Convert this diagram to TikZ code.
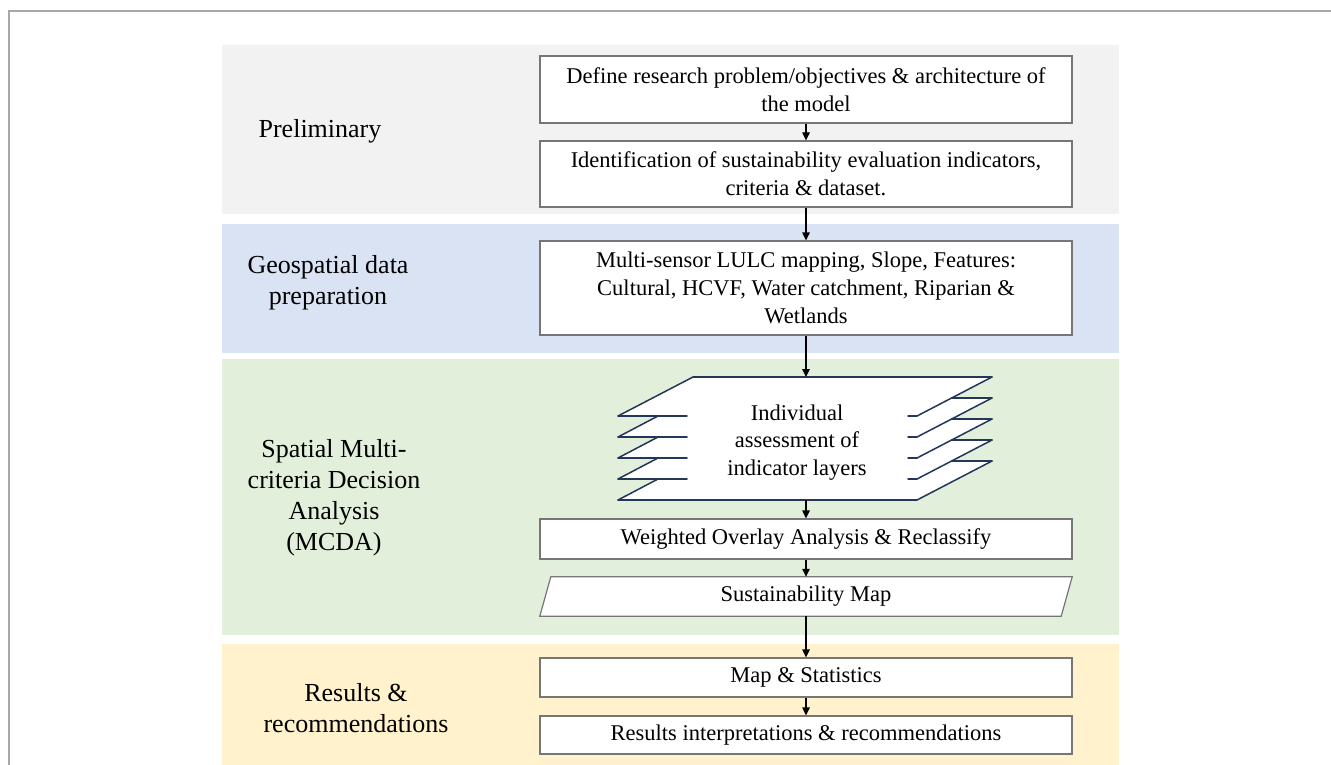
\documentclass[tikz,border=0pt]{standalone}
\usepackage{fontspec}
\setmainfont{Liberation Serif}
\usetikzlibrary{arrows.meta}
\definecolor{bandgray}{HTML}{F2F2F2}
\definecolor{bandblue}{HTML}{DAE3F3}
\definecolor{bandgreen}{HTML}{E2EFDA}
\definecolor{bandyellow}{HTML}{FFF2CC}
\definecolor{boxline}{HTML}{767676}
\definecolor{layerline}{HTML}{24365A}
\definecolor{frameline}{HTML}{A8A8A8}
\pgfdeclarelayer{bands}
\pgfdeclarelayer{shapes}
\pgfsetlayers{bands,shapes,main}
\begin{document}
\begin{tikzpicture}[x=1pt,y=-1pt,
  box/.style={draw=boxline, line width=1.2pt, fill=white, minimum width=532pt,
    align=center, inner sep=0pt, font=\fontsize{22.5}{28}\selectfont},
  plain/.style={align=center, inner sep=0pt, font=\fontsize{22.5}{27.5}\selectfont},
  lbl/.style={align=center, inner sep=0pt, font=\fontsize{26}{31}\selectfont},
  arr/.style={-{Triangle[length=8pt,width=7.5pt]}, line width=1.2pt, black},
  layer/.style={draw=layerline, line width=1.5pt, line cap=round}]
\useasboundingbox (0,0) rectangle (1331,765);

% frame (top and left only)
\draw[frameline, line width=2pt] (1331,11) -- (9,11) -- (9,765);

% bands
\begin{pgfonlayer}{bands}
\fill[bandgray]   (222,45)  rectangle (1119,214);
\fill[bandblue]   (222,224) rectangle (1119,353);
\fill[bandgreen]  (222,359) rectangle (1119,635);
\fill[bandyellow] (222,644) rectangle (1119,765);
\end{pgfonlayer}

% stage labels
\node[lbl] (lpre) at (320,131) {Preliminary};
\node[lbl] (lgeo) at (328,283) {Geospatial data\\preparation};
\node[lbl] (lmcda) at (334,498) {Spatial Multi-\\criteria Decision\\Analysis\\(MCDA)};
\node[lbl] (lres) at (356,708) {Results \&\\recommendations};

% boxes
\node[box, minimum height=67pt] (b1) at (806,89.5) {Define research problem/objectives \& architecture of\\the model};
\node[box, minimum height=66pt] (b2) at (806,174) {Identification of sustainability evaluation indicators,\\criteria \& dataset.};
\node[box, minimum height=94pt] (b3) at (806,288) {Multi-sensor LULC mapping, Slope, Features:\\Cultural, HCVF, Water catchment, Riparian \&\\Wetlands};

% layered shape
\begin{pgfonlayer}{shapes}
\foreach \i in {0,...,4}{
  \fill[white] (693,377+21*\i) -- (992,377+21*\i) -- (917,416+21*\i) -- (618,416+21*\i) -- cycle;
}
\draw[layer] (693,377) -- (992,377);
\draw[layer] (693,377) -- (618,416);
\foreach \i in {0,...,4}{
  \draw[layer] (992,377+21*\i) -- (917,416+21*\i);
}
\foreach \i in {1,...,4}{
  \draw[layer] (952,377+21*\i) -- (992,377+21*\i);
  \draw[layer] (658,395+21*\i) -- (618,416+21*\i);
}
\foreach \i in {0,...,3}{
  \draw[layer] (618,416+21*\i) -- (687,416+21*\i);
  \draw[layer] (908,416+21*\i) -- (917,416+21*\i);
}
\draw[layer] (618,500) -- (917,500);
\end{pgfonlayer}
\node[plain] (layers) at (797,442.5) {Individual\\assessment of\\indicator layers};
\coordinate (ltop) at (806,377);
\coordinate (lbot) at (806,500);

\node[box, minimum height=40pt] (woa) at (806,539) {Weighted Overlay Analysis \& Reclassify};

% parallelogram
\node[plain, minimum width=532pt, minimum height=39pt] (smap) at (806,596.5) {Sustainability Map};
\begin{pgfonlayer}{shapes}
\draw[boxline, line width=1.2pt, fill=white, line join=miter]
  ([xshift=11pt]smap.north west) -- (smap.north east) -- ([xshift=-11pt]smap.south east) -- (smap.south west) -- cycle;
\end{pgfonlayer}

\node[box, minimum height=39pt] (ms) at (806,677.5) {Map \& Statistics};
\node[box, minimum height=38pt] (ri) at (806,735) {Results interpretations \& recommendations};

% connectors
\draw[arr] (b1.south) -- (b2.north);
\draw[arr] (b2.south) -- (b3.north);
\draw[arr] (b3.south) -- (ltop);
\draw[arr] (lbot) -- (woa.north);
\draw[arr] (woa.south) -- (smap.north);
\draw[arr] (smap.south) -- (ms.north);
\draw[arr] (ms.south) -- (ri.north);
\end{tikzpicture}
\end{document}
